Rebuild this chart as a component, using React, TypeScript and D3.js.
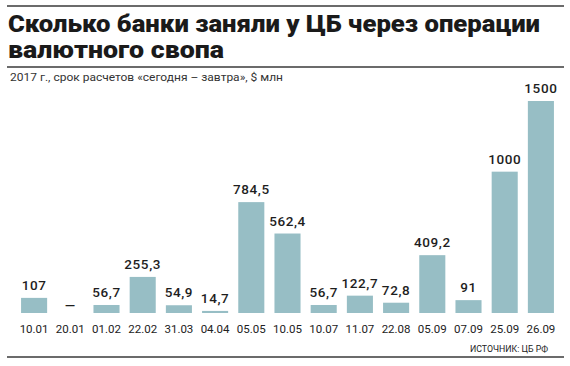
import React from 'react';
import * as d3 from 'd3';

const categories = ['10.01', '20.01', '01.02', '22.02', '31.03', '04.04', '05.05', '10.05', '10.07', '11.07', '22.08', '05.09', '07.09', '25.09', '26.09'];
const values: (number | null)[] = [107, null, 56.7, 255.3, 54.9, 14.7, 784.5, 562.4, 56.7, 122.7, 72.8, 409.2, 91, 1000, 1500];
const valueLabels = ['107', '—', '56,7', '255,3', '54,9', '14,7', '784,5', '562,4', '56,7', '122,7', '72,8', '409,2', '91', '1000', '1500'];

const width = 570;
const height = 366;
const baseline = 313;

const App: React.FC = () => {
  const x = d3.scaleBand<string>().domain(categories).range([16, 559]).paddingInner(0.28).paddingOuter(0.14);
  const y = d3.scaleLinear().domain([0, 1500]).range([baseline, 101]);

  return (
    <svg width={width} height={height} style={{ position: 'absolute', left: 0, top: 0, background: '#fff' }}>
      {/* rules */}
      <line x1={7} x2={564} y1={6} y2={6} stroke="#6b6b6b" strokeWidth={2} />
      <line x1={7} x2={564} y1={67} y2={67} stroke="#6b6b6b" strokeWidth={2} />
      <line x1={7} x2={564} y1={357} y2={357} stroke="#6b6b6b" strokeWidth={2} />

      {/* title */}
      <g fontFamily="Roboto, sans-serif" fontWeight={900} fontSize={24} fill="#1a1a1a">
        <text x={8} y={32} textLength={532} lengthAdjust="spacingAndGlyphs">Сколько банки заняли у ЦБ через операции</text>
        <text x={8} y={58} textLength={216} lengthAdjust="spacingAndGlyphs">валютного свопа</text>
      </g>

      <text x={10} y={81} fontFamily="Roboto, sans-serif" fontSize={11.5} fill="#333" textLength={273} lengthAdjust="spacingAndGlyphs">
        2017 г., срок расчетов «сегодня – завтра», $ млн
      </text>

      {/* bars */}
      {categories.map((c, i) => {
        const v = values[i];
        const cx = (x(c) ?? 0) + x.bandwidth() / 2;
        return (
          <g key={c}>
            {v !== null && (
              <rect x={x(c)} y={y(v)} width={x.bandwidth()} height={baseline - y(v)} fill="#97bec5" />
            )}
            <text
              x={cx}
              y={v !== null ? y(v) - 8 : baseline - 3}
              textAnchor="middle"
              fontFamily="Roboto, sans-serif"
              fontWeight={500}
              fontSize={13.5}
              letterSpacing={0.6}
              fill="#1e1e1e"
            >
              {valueLabels[i]}
            </text>
            <text x={cx} y={333} textAnchor="middle" fontFamily="Roboto, sans-serif" fontSize={11.5} fill="#222">
              {c}
            </text>
          </g>
        );
      })}

      <text x={548} y={352} textAnchor="end" fontFamily="Roboto, sans-serif" fontSize={9.5} fill="#222" textLength={78} lengthAdjust="spacingAndGlyphs">
        ИСТОЧНИК: ЦБ РФ
      </text>
    </svg>
  );
};

export default App;
